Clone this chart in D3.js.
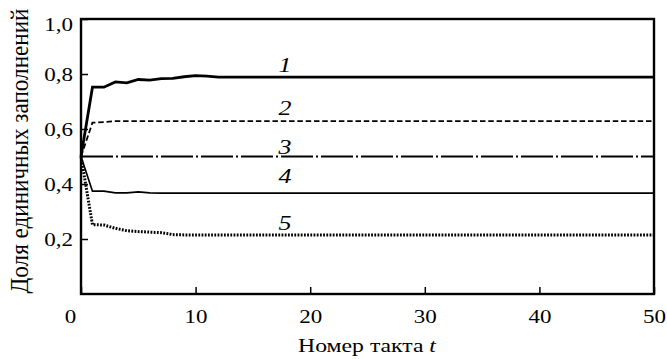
<!DOCTYPE html>
<html><head><meta charset="utf-8">
<script src="https://cdn.jsdelivr.net/npm/d3@7"></script>
<style>body{margin:0;background:#fff}svg{display:block}</style>
</head><body><svg id="c" width="667" height="359"></svg>
<script>
const t1 = [0,1,2,3,4,5,6,7,8,9,10,11,12,50];
const s1 = [0.5,0.752,0.752,0.771,0.768,0.780,0.778,0.783,0.784,0.790,0.794,0.792,0.789,0.789];
const t2 = [0,1,2,3,50];
const s2 = [0.5,0.623,0.625,0.629,0.629];
const t3 = [0,50];
const s3 = [0.5,0.5];
const t4 = [0,1,2,3,4,5,6,7,50];
const s4 = [0.5,0.374,0.374,0.368,0.368,0.371,0.368,0.367,0.367];
const t5 = [0,1,2,3,4,5,6,7,8,9,50];
const s5 = [0.5,0.252,0.251,0.239,0.230,0.227,0.225,0.223,0.216,0.215,0.215];
const seriesLabels = ["1","2","3","4","5"];
const xTicks = [0,10,20,30,40,50];
const yTicks = [0.2,0.4,0.6,0.8,1.0];
const xTitle = "Номер такта ";
const xTitleVar = "t";
const yTitle = "Доля единичных заполнений";

const FONT = '"Liberation Serif"';
const STRETCH = 1.18;
const svg = d3.select("#c");
const L=81, R=654, T=19, B=294;
const x = d3.scaleLinear().domain([0,50]).range([L,R]);
const y = d3.scaleLinear().domain([0,1]).range([B,T]);

// draw text at 24px and scale it down to the target size (keeps the serif face)
function serifize(sel, size, sx, ox, oy){
  sel.each(function(){
    const el = d3.select(this);
    const px = (+el.attr("x")||0) + (ox||0), py = (+el.attr("y")||0) + (oy||0);
    const k = size/24;
    el.attr("x",0).attr("y",0).style("font-size","24px").style("font-family",FONT).attr("fill","#000");
    el.attr("transform",`translate(${px},${py}) scale(${k*sx},${k})`);
  });
}

const series = [
  {t:t1, v:s1, w:2.8, dash:null, lab:seriesLabels[0], lv:0.807},
  {t:t2, v:s2, w:1.8, dash:"5.5,2.8", lab:seriesLabels[1], lv:0.651},
  {t:t3, v:s3, w:1.8, dash:"32,3,2,3", lab:seriesLabels[2], lv:0.509},
  {t:t4, v:s4, w:1.7, dash:null, lab:seriesLabels[3], lv:0.404},
  {t:t5, v:s5, w:3, dash:"1.8,1.4", lab:seriesLabels[4], lv:0.233},
];
const line = d3.line().x(d=>x(d[0])).y(d=>y(d[1]));
series.forEach(s=>{
  const pts = s.t.map((tt,i)=>[tt,s.v[i]]);
  svg.append("path").attr("d",line(pts)).attr("fill","none").attr("stroke","#000")
    .attr("stroke-width",s.w).attr("stroke-dasharray",s.dash);
  const tx = svg.append("text").attr("x",x(17.8)).attr("y",y(s.lv)).attr("text-anchor","middle")
    .style("font-style","italic").text(s.lab);
  serifize(tx, 22, STRETCH);
});

// axes (inward ticks)
const xa = svg.append("g").attr("transform",`translate(0,${B})`)
  .call(d3.axisBottom(x).tickValues(xTicks).tickSize(-7).tickPadding(15).tickFormat(d3.format("d")));
const ya = svg.append("g").attr("transform",`translate(${L},0)`)
  .call(d3.axisLeft(y).tickValues(yTicks).tickSize(-7).tickPadding(8).tickFormat(d=>d3.format(".1f")(d).replace(".",",")));
[xa,ya].forEach(g=>{g.attr("font-family",null).attr("font-size",null);
  g.select(".domain").remove();g.selectAll("line").attr("stroke","#000").attr("stroke-width",1.5);});
xa.selectAll("text").each(function(d){ serifize(d3.select(this), 19.5, STRETCH, d===0?-11:0, 0); });
ya.selectAll("text").each(function(d){ serifize(d3.select(this), 19.5, STRETCH, 0, d===1?5:0); });

svg.append("rect").attr("x",L).attr("y",T).attr("width",R-L).attr("height",B-T)
  .attr("fill","none").attr("stroke","#000").attr("stroke-width",2.4);

// x title
const xt = svg.append("text").attr("text-anchor","middle")
  .style("font-family",FONT).style("font-size","24px").attr("fill","#000");
xt.append("tspan").text(xTitle);
xt.append("tspan").style("font-style","italic").text(xTitleVar);
const xw = xt.node().getComputedTextLength() || 150;
const kx = 19/24;
xt.attr("transform",`translate(367,352) scale(${138/xw},${kx})`);

// y title
const yt = svg.append("text").attr("text-anchor","middle")
  .style("font-family",FONT).style("font-size","24px").attr("fill","#000").text(yTitle);
const yw = yt.node().getComputedTextLength() || 300;
yt.attr("transform",`translate(28,151) rotate(-90) scale(${285/yw},${21/24*1.15})`);
</script></body></html>
